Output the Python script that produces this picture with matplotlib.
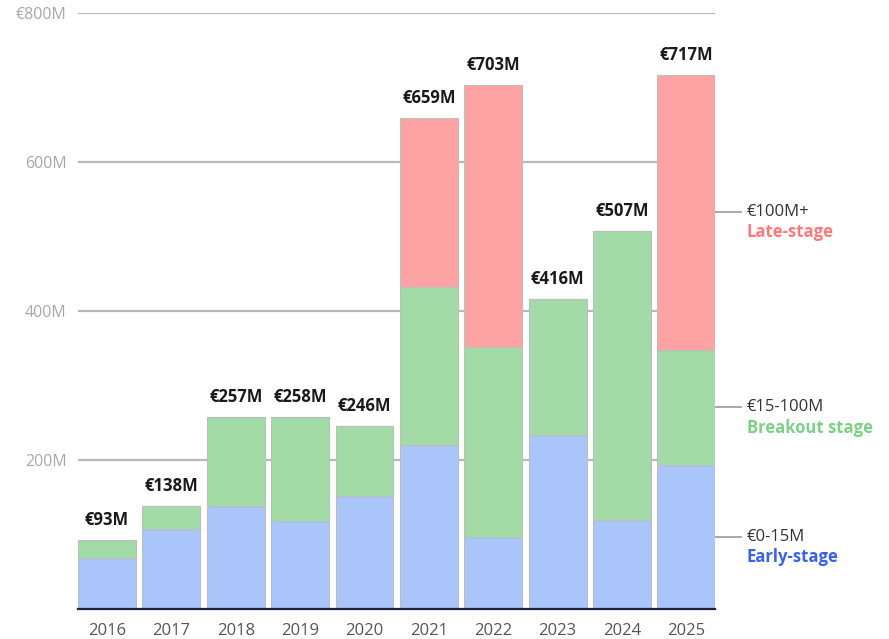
import numpy as np
import matplotlib
matplotlib.use('Agg')
import matplotlib.pyplot as plt

plt.rcParams['font.family'] = ['Open Sans', 'DejaVu Sans']

years = ['2016', '2017', '2018', '2019', '2020', '2021', '2022', '2023', '2024', '2025']
totals = [93, 138, 257, 258, 246, 659, 703, 416, 507, 717]
early = [69, 107, 138, 118, 151, 220, 96, 234, 119, 193]
breakout = [24, 31, 119, 140, 95, 212, 256, 182, 388, 155]
late = [0, 0, 0, 0, 0, 227, 351, 0, 0, 369]

y_ticks = [200, 400, 600, 800]
y_labels = ['200M', '400M', '600M', '€800M']

stage_ranges = ['€0-15M', '€15-100M', '€100M+']
stage_names = ['Early-stage', 'Breakout stage', 'Late-stage']

c_early = '#a9c5f9'
c_breakout = '#a3dba7'
c_late = '#fea3a3'
txt_colors = ['#3a62e6', '#7fcf88', '#ff7b7b']


def main():
    fig = plt.figure(figsize=(8.89, 6.39), dpi=100)
    ax = fig.add_axes([0.0877, 0.047, 0.717, 0.933])

    ind = np.arange(len(years))
    early_a = np.array(early)
    breakout_a = np.array(breakout)
    late_a = np.array(late)
    width = 0.9
    edge = dict(edgecolor='#bdbdbd', linewidth=0.8, zorder=3)
    ax.bar(ind, early_a, width, color=c_early, **edge)
    ax.bar(ind, breakout_a, width, bottom=early_a, color=c_breakout, **edge)
    ax.bar(ind, late_a, width, bottom=early_a + breakout_a, color=c_late, **edge)

    for i, t in enumerate(totals):
        ax.annotate('€%dM' % t, (i, t), xytext=(0, 8), textcoords='offset points',
                    ha='center', va='bottom', fontsize=12, fontweight='bold',
                    color='#1a1a1a', zorder=5)

    ax.set_xlim(-0.45, len(years) - 0.55)
    ax.set_ylim(0, 800)
    ax.set_yticks(y_ticks)
    ax.set_yticklabels(y_labels)
    ax.set_xticks(ind)
    ax.set_xticklabels(years)
    ax.tick_params(axis='y', length=0, pad=8, labelsize=11.5, labelcolor='#a8a8a8')
    ax.tick_params(axis='x', length=0, pad=10, labelsize=12, labelcolor='#555555')
    ax.grid(axis='y', color='#b8b8b8', linewidth=1.6, zorder=0)
    ax.set_axisbelow(True)
    for s in ['top', 'right', 'left']:
        ax.spines[s].set_visible(False)
    ax.spines['bottom'].set_color('#1c2340')
    ax.spines['bottom'].set_linewidth(1.6)
    ax.spines['bottom'].set_zorder(4)

    # stage labels next to the last bar, at the middle of each segment
    last = len(years) - 1
    mids = [early[last] / 2,
            early[last] + breakout[last] / 2,
            early[last] + breakout[last] + late[last] / 2]
    for m, r, n, c in zip(mids, stage_ranges, stage_names, txt_colors):
        ax.plot([last + 0.45, last + 0.85], [m, m], color='#999999', lw=1.2,
                clip_on=False, zorder=2)
        ax.annotate(r, (last + 0.85, m), xytext=(4, 0), textcoords='offset points',
                    ha='left', va='center', fontsize=12, color='#333333',
                    annotation_clip=False)
        ax.annotate(n, (last + 0.85, m), xytext=(4, -14.5), textcoords='offset points',
                    ha='left', va='center', fontsize=12, fontweight='bold',
                    color=c, annotation_clip=False)

    plt.savefig('out.png')


if __name__ == '__main__':
    main()
